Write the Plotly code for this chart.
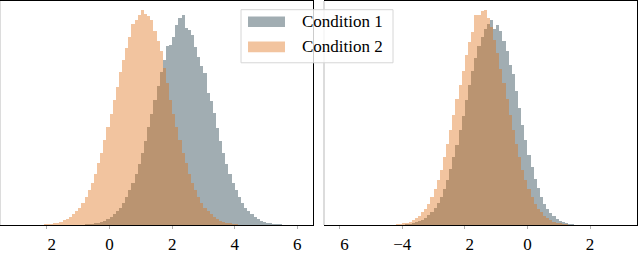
import numpy as np
import plotly.graph_objects as go

# ---------------- data (bin heights) ----------------
series_names = ["Condition 1", "Condition 2"]

left_bin_start = -2.25   # centre of first bin, left panel
right_bin_start = -4.65  # centre of first bin, right panel
bin_width = 0.1

left_cond1 = [0]*14 + [0, 1, 1, 1, 2, 2, 3, 4, 6, 8, 11, 14, 18, 23, 29, 36, 44, 53, 63, 75,
              87, 101, 115, 129, 144, 158, 171, 185, 186, 195, 207, 214, 217, 204, 202, 197,
              184, 174, 165, 157, 137, 128, 116, 100, 87, 75, 63, 53, 44, 36, 29, 23, 18, 14,
              11, 8, 6, 4, 3, 2, 2, 1, 1, 1, 0, 0]
left_cond2 = [0, 0, 1, 1, 1, 2, 2, 3, 5, 6, 8, 11, 14, 18, 23, 29, 36, 44, 53, 64, 75, 88,
              101, 115, 129, 143, 158, 171, 183, 195, 208, 212, 218, 223, 219, 216, 212, 201,
              191, 180, 163, 147, 129, 115, 101, 88, 75, 64, 53, 44, 36, 29, 23, 18, 14, 11,
              8, 6, 4, 3, 2, 2, 1, 1] + [0]*16

right_cond1 = [0]*8 + [1, 1, 2, 3, 4, 5, 7, 10, 13, 18, 23, 29, 37, 47, 58, 70, 83, 98, 113,
               129, 145, 160, 173, 185, 195, 203, 208, 212, 203, 207, 201, 191, 180, 166, 156,
               139, 121, 104, 88, 73, 60, 48, 38, 29, 22, 17, 12, 9, 6, 4, 3, 2, 1, 1, 0, 0]
right_cond2 = [0]*5 + [1, 1, 2, 2, 3, 5, 7, 9, 13, 17, 22, 29, 37, 47, 57, 70, 84, 98, 114,
               130, 145, 160, 176, 190, 200, 218, 218, 222, 223, 214, 205, 192, 178, 162, 147,
               130, 114, 98, 84, 70, 57, 47, 37, 29, 22, 17, 13, 9, 7, 5, 3, 2, 2, 1, 1] + [0]*4

left_tickvals = [-2, 0, 2, 4, 6]
right_tickvals = [-6, -4, -2, 0, 2]
HID = '<span style="color:rgba(0,0,0,0)">\u2212</span>'
left_ticktext = [HID + "2", "0", "2", "4", "6"]
right_ticktext = [HID + "6", "\u22124", HID + "2", "0", "2"]

left_centers = np.round(left_bin_start + bin_width * np.arange(len(left_cond1)), 3)
right_centers = np.round(right_bin_start + bin_width * np.arange(len(right_cond1)), 3)

# ---------------- styling ----------------
C1 = "rgba(26,55,67,0.41)"
C2 = "rgba(223,111,21,0.41)"
FONT = "Liberation Serif, Times New Roman, serif"

fig = go.Figure()
for xs, ys, ax, col, name in [
    (left_centers, left_cond1, ("x", "y"), C1, series_names[0]),
    (left_centers, left_cond2, ("x", "y"), C2, series_names[1]),
    (right_centers, right_cond1, ("x2", "y2"), C1, series_names[0]),
    (right_centers, right_cond2, ("x2", "y2"), C2, series_names[1]),
]:
    fig.add_trace(go.Bar(x=xs, y=ys, width=bin_width, xaxis=ax[0], yaxis=ax[1],
                         marker=dict(color=col, line=dict(width=0)), name=name,
                         showlegend=False, hoverinfo="skip"))

W, H = 638, 254
ml, mr, mt, mb = 0, 1, 1, 21
pw = W - ml - mr
ph = H - mt - mb

def px(x):
    return (x - ml) / pw

def py(y):
    return (H - mb - y) / ph

axis_common = dict(showgrid=False, zeroline=False, showline=True, linecolor="black",
                   linewidth=1, mirror=True, ticks="outside", ticklen=3, tickwidth=1,
                   tickcolor="#b0b0b0", ticklabelstandoff=1,
                   tickfont=dict(family=FONT, size=17, color="black"))
yaxis_common = dict(showgrid=False, zeroline=False, showline=True, linecolor="black",
                    linewidth=1, side="right", showticklabels=False, ticks="", range=[0, 232])

fig.update_layout(
    width=W, height=H, margin=dict(l=ml, r=mr, t=mt, b=mb),
    paper_bgcolor="white", plot_bgcolor="white", barmode="overlay", bargap=0,
    font=dict(family=FONT),
    xaxis=dict(domain=[0, px(313)], range=[-3.5, 6.5], tickmode="array",
               tickvals=left_tickvals, ticktext=left_ticktext, **axis_common),
    xaxis2=dict(domain=[px(324), 1], range=[-6.5, 3.5], tickmode="array",
                tickvals=right_tickvals, ticktext=right_ticktext, anchor="y2", **axis_common),
    yaxis=dict(domain=[0, 1], anchor="x", **yaxis_common),
    yaxis2=dict(domain=[0, 1], anchor="x2", **yaxis_common),
    showlegend=False,
)

shapes = []
# light grey left spines
for xr, yr in [("x domain", "y domain"), ("x2 domain", "y2 domain")]:
    shapes.append(dict(type="line", xref=xr, yref=yr, x0=0, x1=0, y0=0, y1=1,
                       line=dict(color="#d0d0d0", width=1.5), layer="above"))
# legend frame
shapes.append(dict(type="rect", xref="paper", yref="paper", x0=px(241), x1=px(393),
                   y0=py(65), y1=py(10), fillcolor="rgba(255,255,255,0.8)",
                   line=dict(color="#d6d6d6", width=1), layer="above"))
annotations = []
for i, (name, col) in enumerate(zip(series_names, [C1, C2])):
    top = 17 + 26 * i
    shapes.append(dict(type="rect", xref="paper", yref="paper", x0=px(248), x1=px(285),
                       y0=py(top + 11), y1=py(top), fillcolor=col, line=dict(width=0),
                       layer="above"))
    annotations.append(dict(xref="paper", yref="paper", x=px(300), y=py(top + 5.5),
                            text=name, showarrow=False, xanchor="left", yanchor="middle",
                            font=dict(family=FONT, size=17, color="black")))
fig.update_layout(shapes=shapes, annotations=annotations)

fig.write_html("out.html", config={"displayModeBar": False},
               post_script="document.body.style.margin='0';document.body.style.padding='0';")
